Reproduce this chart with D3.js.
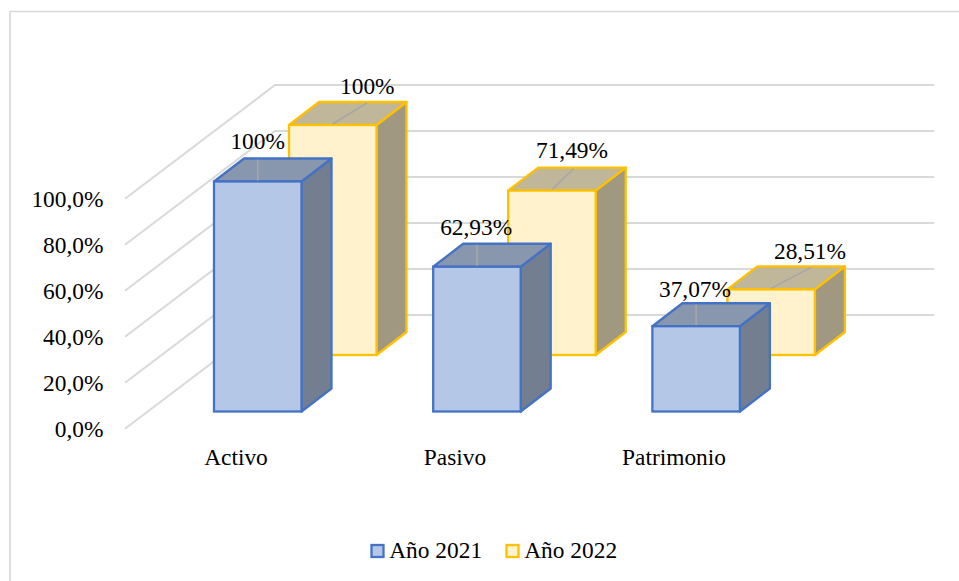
<!DOCTYPE html>
<html><head><meta charset="utf-8">
<script src="https://cdn.jsdelivr.net/npm/d3@7"></script>
<style>html,body{margin:0;padding:0;background:#fff}svg{display:block}text{font-family:"Liberation Serif","Times New Roman",serif;fill:#000}</style>
</head><body><svg id="c" width="959" height="581"></svg>
<script>
const categories = ["Activo","Pasivo","Patrimonio"];
const seriesNames = ["Año 2021","Año 2022"];
const values2021 = [100,62.93,37.07];
const values2022 = [100,71.49,28.51];
const labels2021 = ["100%","62,93%","37,07%"];
const labels2022 = ["100%","71,49%","28,51%"];
const tickValues = [0,20,40,60,80,100];
const tickLabels = ["0,0%","20,0%","40,0%","60,0%","80,0%","100,0%"];

const svg = d3.select("#c");
const FS = 23.4;
const styles = [
  {front:"#B4C7E7",top:"#8997AE",side:"#737F90",stroke:"#4472C4"},
  {front:"#FFF2CC",top:"#C0B699",side:"#A09880",stroke:"#FFC000"}
];
// chart frame: only the top and left edges fall inside the picture
svg.append("path").attr("d","M10,581V11.5H959").attr("fill","none").attr("stroke","#D9D9D9").attr("stroke-width",1.7);

// projection: value -> y on the front floor line, category -> x
const y = d3.scaleLinear().domain([0,100]).range([411.5,181.5]);
const step = 219.2;
const barW = 87.5;
const depth = {dx:30,dy:-23};
const serOff = {dx:75,dy:-56.5};
const catX = d3.scaleLinear().domain([0,1]).range([214,214+step]);

// walls
const floorFront = {x:125,y:428.7}, floorBack = {x:275,y:315}, wallEnd = 934.3;
const yGrid = d3.scaleLinear().domain([0,100]).range([0,-230]);
const grid = svg.append("g").attr("fill","none").attr("stroke","#D9D9D9").attr("stroke-width",2);
tickValues.forEach(t=>{
  const d = yGrid(t);
  grid.append("path").attr("d",`M${floorFront.x},${floorFront.y+d}L${floorBack.x},${floorBack.y+d}H${wallEnd}`);
});
svg.append("g").selectAll("text").data(tickValues).join("text")
  .attr("x",103.5).attr("y",d=>floorFront.y+yGrid(d)+8).attr("text-anchor","end").attr("font-size",FS)
  .text((d,i)=>tickLabels[i]);

// bars (back series first)
function bar(g,i,s,v){
  const st = styles[s];
  const x0 = catX(i)+s*serOff.dx, x1 = x0+barW;
  const yb = y(0)+s*serOff.dy, yt = y(v)+s*serOff.dy;
  const dx = depth.dx, dy = depth.dy;
  const sw = 2.3;
  g.append("path").attr("d",`M${x1},${yt}L${x1+dx},${yt+dy}V${yb+dy}L${x1},${yb}Z`).attr("fill",st.side).attr("stroke",st.stroke).attr("stroke-width",sw).attr("stroke-linejoin","round");
  g.append("path").attr("d",`M${x0},${yt}L${x0+dx},${yt+dy}H${x1+dx}L${x1},${yt}Z`).attr("fill",st.top).attr("stroke",st.stroke).attr("stroke-width",sw).attr("stroke-linejoin","round");
  g.append("rect").attr("x",x0).attr("y",yt).attr("width",barW).attr("height",yb-yt).attr("fill",st.front).attr("stroke",st.stroke).attr("stroke-width",sw);
}
const barsG = svg.append("g");
[1,0].forEach(s=>{
  const vals = s? values2022 : values2021;
  categories.forEach((c,i)=>{
    bar(barsG.append("g"),i,s,vals[i]);
  });
});

// leader lines and data labels
const labelShift = [[0,0,0],[34,22,40]];
const labelX = [[257.7,476.2,695],[367.3,572,810]];
const labelY = [[149,235,297],[94,157.5,258.5]];
[0,1].forEach(s=>{
  const vals = s? values2022 : values2021;
  const labs = s? labels2022 : labels2021;
  categories.forEach((c,i)=>{
    const cx = catX(i)+s*serOff.dx+barW/2, yt = y(vals[i])+s*serOff.dy;
    svg.append("line").attr("x1",cx).attr("y1",yt-1).attr("x2",cx+labelShift[s][i]).attr("y2",yt+depth.dy+1)
      .attr("stroke","#A6A6A6").attr("stroke-width",1.5);
    svg.append("text").attr("x",labelX[s][i]).attr("y",labelY[s][i]).attr("text-anchor","middle").attr("font-size",FS).text(labs[i]);
  });
});

// category labels
const catLabelX = [236,455,674];
svg.append("g").selectAll("text").data(categories).join("text")
  .attr("x",(d,i)=>catLabelX[i]).attr("y",465).attr("text-anchor","middle").attr("font-size",FS).text(d=>d);

// legend
const legX = [371.5,506.5];
const lg = svg.append("g");
seriesNames.forEach((n,i)=>{
  lg.append("rect").attr("x",legX[i]).attr("y",545).attr("width",12).attr("height",12)
    .attr("fill",styles[i].front).attr("stroke",styles[i].stroke).attr("stroke-width",2.3);
  lg.append("text").attr("x",legX[i]+17.7).attr("y",558).attr("font-size",FS).text(n);
});
</script></body></html>
